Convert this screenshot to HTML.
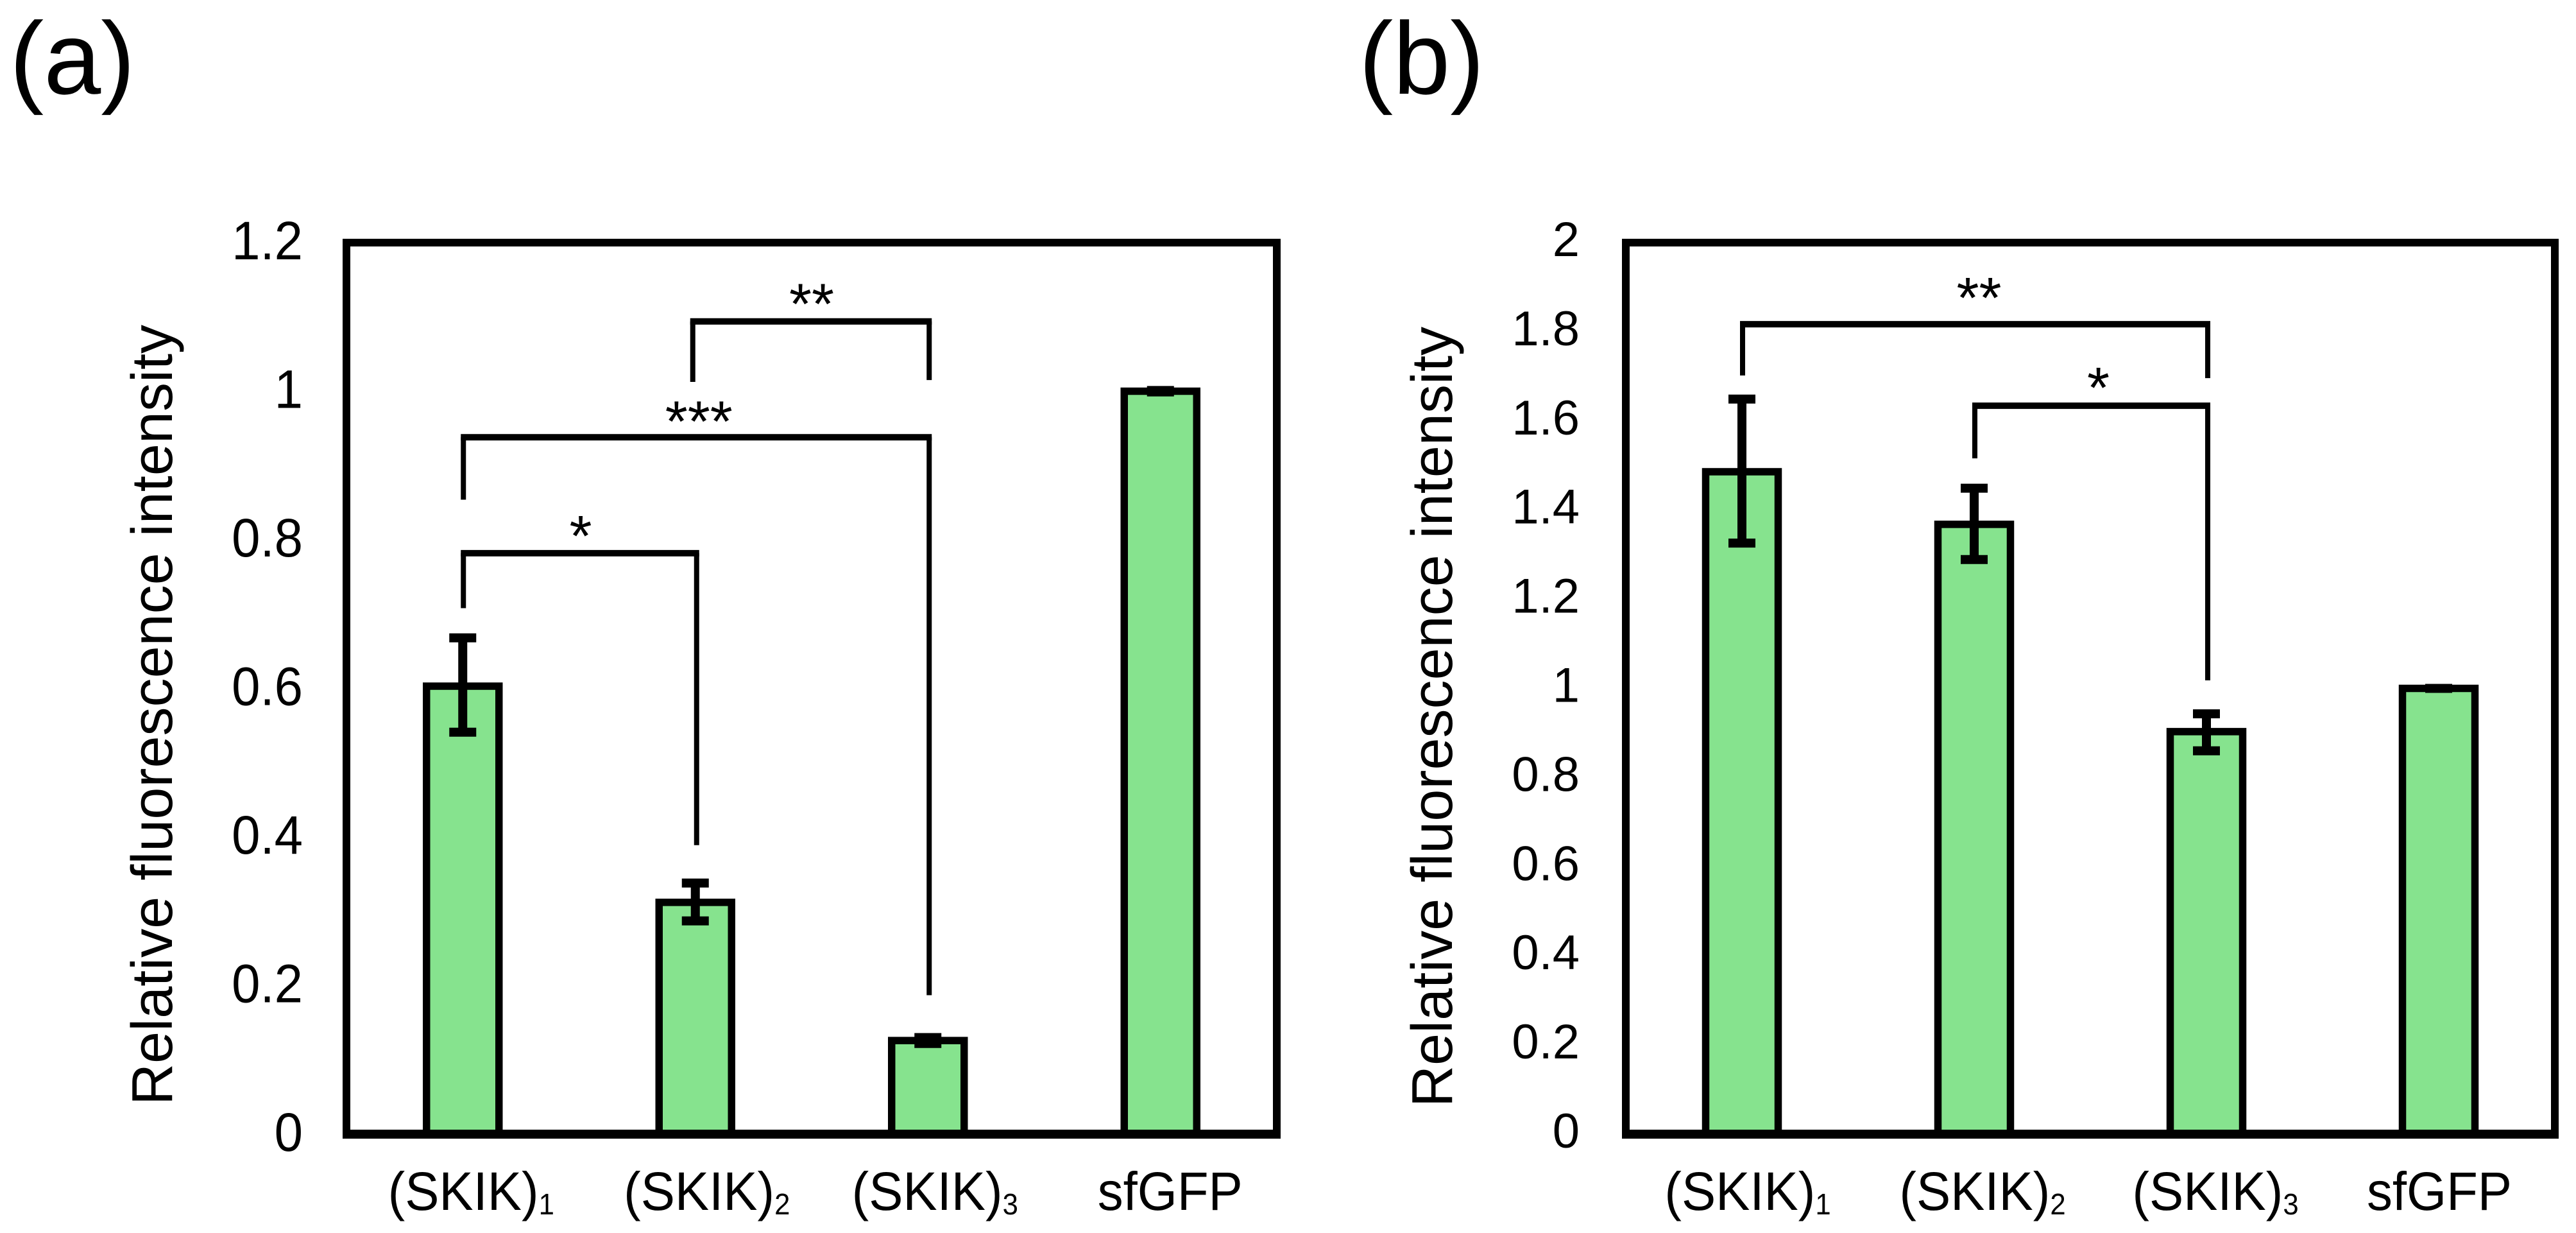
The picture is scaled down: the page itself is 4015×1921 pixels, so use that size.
<!DOCTYPE html>
<html lang="en">
<head>
<meta charset="utf-8">
<title>Relative fluorescence intensity of SKIK-tagged sfGFP</title>
<style>
  html, body { margin: 0; padding: 0; background: #fff; }
  svg { display: block; }
  text { font-family: "Liberation Sans", Arial, sans-serif; fill: #000; }
</style>
</head>
<body>
<svg id="figure" xmlns="http://www.w3.org/2000/svg" width="4015" height="1921" viewBox="0 0 4015 1921">
  <rect x="0" y="0" width="4015" height="1921" fill="#ffffff"/>
  <text x="15" y="146" font-size="160">(a)</text>
  <text x="2118" y="146" font-size="160">(b)</text>
</svg>
<script>
// Shared categories
const categoryNames = ['(SKIK)', '(SKIK)', '(SKIK)', 'sfGFP'];
const categorySubscripts = ['1', '2', '3', ''];

// Panel (a) data
const valuesA = [0.603, 0.312, 0.126, 1.0];
const errorHighA = [0.668, 0.338, 0.130, 1.001];
const errorLowA = [0.541, 0.287, 0.122, 0.999];
const ticksA = [0, 0.2, 0.4, 0.6, 0.8, 1, 1.2];
const bracketStartA = [1, 0, 0];
const bracketEndA = [2, 2, 1];
const bracketLevelA = [1.094, 0.938, 0.782];
const bracketLeftEndA = [1.0125, 0.854, 0.708];
const bracketRightEndA = [1.015, 0.187, 0.389];
const bracketStarsA = ['**', '***', '*'];

// Panel (b) data
const valuesB = [1.486, 1.368, 0.903, 1.0];
const errorHighB = [1.649, 1.449, 0.943, 1.0];
const errorLowB = [1.326, 1.289, 0.860, 1.0];
const ticksB = [0, 0.2, 0.4, 0.6, 0.8, 1, 1.2, 1.4, 1.6, 1.8, 2];
const bracketStartB = [0, 1];
const bracketEndB = [2, 2];
const bracketLevelB = [1.817, 1.634];
const bracketLeftEndB = [1.702, 1.516];
const bracketRightEndB = [1.696, 1.018];
const bracketStarsB = ['**', '*'];

const SVG_NS = 'http://www.w3.org/2000/svg';
const figure = document.getElementById('figure');

function make(parent, tag, attrs, content) {
  const el = document.createElementNS(SVG_NS, tag);
  for (const key in attrs) { el.setAttribute(key, attrs[key]); }
  if (content !== undefined) { el.textContent = content; }
  parent.appendChild(el);
  return el;
}

function drawPanel(p) {
  const g = make(figure, 'g', {});
  
  

  const yScale = v => p.bottom - (v / p.maxValue) * (p.bottom - p.top);
  const band = (p.right - p.left) / categoryNames.length;
  const xScale = i => p.left + band * (i + 0.5);

  // bars
  p.values.forEach((v, i) => {
    const bar = make(g, 'rect', {
      x: xScale(i) - 56.5, y: yScale(v), width: 113, height: yScale(0) - yScale(v),
      fill: '#86E38E', stroke: '#000', 'stroke-width': 11.5
    });
    
    
  });

  // error bars
  p.values.forEach((v, i) => {
    const cx = xScale(i);
    const eg = make(g, 'g', { stroke: '#000', fill: 'none' });
    
    
    make(eg, 'line', { x1: cx, x2: cx, y1: yScale(p.high[i]), y2: yScale(p.low[i]), 'stroke-width': 14 });
    make(eg, 'line', { x1: cx - 21, x2: cx + 21, y1: yScale(p.high[i]), y2: yScale(p.high[i]), 'stroke-width': 14 });
    make(eg, 'line', { x1: cx - 21, x2: cx + 21, y1: yScale(p.low[i]), y2: yScale(p.low[i]), 'stroke-width': 14 });
  });

  // frame
  const frame = make(g, 'rect', {
    x: p.left, y: p.top, width: p.right - p.left, height: p.bottom - p.top,
    fill: 'none', stroke: '#000', 'stroke-width': 12
  });
  
  
  const xAxis = make(g, 'line', {
    x1: p.left - 6, x2: p.right + 6, y1: p.bottom, y2: p.bottom, stroke: '#000', 'stroke-width': 14
  });
  
  

  // y tick labels
  p.ticks.forEach(t => {
    const label = make(g, 'text', {
      transform: 'translate(' + p.tickX + ' ' + (yScale(t) + p.tickDy) + ') scale(' + p.tickSqueeze + ' 1)',
      'font-size': p.tickSize, 'text-anchor': 'end'
    }, String(t));
    
    
  });

  // x category labels
  categoryNames.forEach((name, i) => {
    const label = make(g, 'text', {
      transform: 'translate(' + (xScale(i) + p.labelDx[i]) + ' 1885) scale(0.95 1)',
      'font-size': 84, 'text-anchor': 'middle'
    }, name);
    
    
    if (categorySubscripts[i]) {
      make(label, 'tspan', { dy: 7, 'font-size': 46 }, categorySubscripts[i]);
    }
  });

  // y axis title
  const title = make(g, 'text', {
    transform: 'translate(' + p.titleX + ' ' + p.titleY + ') rotate(-90)',
    'font-size': 90, textLength: 1216, lengthAdjust: 'spacingAndGlyphs'
  }, 'Relative fluorescence intensity');
  
  

  // significance brackets
  p.bracketStart.forEach((start, i) => {
    const xa = xScale(start) + p.bracketLeftDx[i];
    const xb = xScale(p.bracketEnd[i]) + 2;
    const yTop = yScale(p.bracketLevel[i]);
    const bg = make(g, 'g', { stroke: '#000', fill: 'none' });
    
    
    make(bg, 'line', { x1: xa - 4, x2: xb + 4, y1: yTop, y2: yTop, 'stroke-width': 10 });
    make(bg, 'line', { x1: xa, x2: xa, y1: yTop, y2: yScale(p.bracketLeftEnd[i]), 'stroke-width': 8 });
    make(bg, 'line', { x1: xb, x2: xb, y1: yTop, y2: yScale(p.bracketRightEnd[i]), 'stroke-width': 8 });
    const stars = make(g, 'text', {
      x: (xa + xb) / 2 + p.starDx[i], y: yTop + p.starDy[i], 'font-size': 90, 'text-anchor': 'middle'
    }, p.bracketStars[i]);
    
    
  });
}

drawPanel({
  id: 'a', left: 540, right: 1990, top: 378, bottom: 1767, maxValue: 1.2,
  values: valuesA, high: errorHighA, low: errorLowA, ticks: ticksA,
  tickX: 472, tickDy: 26, tickSize: 84, tickSqueeze: 0.95,
  labelDx: [13, 18, 11, 15],
  titleX: 268, titleY: 1722,
  bracketStart: bracketStartA, bracketEnd: bracketEndA, bracketLevel: bracketLevelA,
  bracketLeftEnd: bracketLeftEndA, bracketRightEnd: bracketRightEndA, bracketStars: bracketStarsA,
  bracketLeftDx: [-4, 1, 1],
  starDx: [1, 4, 1], starDy: [4, 6, 4]
});

drawPanel({
  id: 'b', left: 2534, right: 3982, top: 378, bottom: 1767, maxValue: 2,
  values: valuesB, high: errorHighB, low: errorLowB, ticks: ticksB,
  tickX: 2462, tickDy: 21, tickSize: 76, tickSqueeze: 1,
  labelDx: [9, 13, 14, 1],
  titleX: 2263, titleY: 1725,
  bracketStart: bracketStartB, bracketEnd: bracketEndB, bracketLevel: bracketLevelB,
  bracketLeftEnd: bracketLeftEndB, bracketRightEnd: bracketRightEndB, bracketStars: bracketStarsB,
  bracketLeftDx: [1, 1],
  starDx: [6, 11], starDy: [-10, 3]
});
</script>
</body>
</html>
